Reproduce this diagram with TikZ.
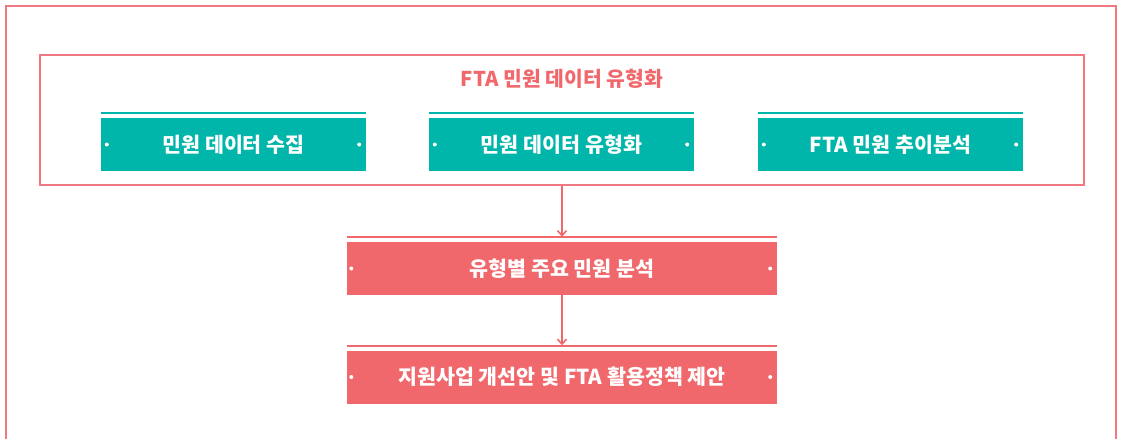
\documentclass[tikz,border=0pt]{standalone}
\usepackage{fontspec}
\newfontfamily\kr{Noto Sans CJK KR}
\usetikzlibrary{arrows.meta}
\definecolor{tealc}{HTML}{00B5A9}
\definecolor{redc}{HTML}{F0686C}
\definecolor{framec}{HTML}{F07880}
\tikzset{
  frameline/.style={draw=framec, line width=1.2pt},
  tealbox/.style={fill=tealc, minimum width=265pt, minimum height=53pt, inner sep=0pt, text=white, font=\kr\bfseries\fontsize{20.6}{24}\selectfont},
  redbox/.style={fill=redc, minimum width=430pt, minimum height=53pt, inner sep=0pt, text=white, font=\kr\bfseries\fontsize{20.6}{24}\selectfont},
  titletext/.style={text=redc, font=\kr\bfseries\fontsize{20.4}{24}\selectfont, inner sep=0pt},
  wdot/.style={fill=white, draw=none},
  flowarrow/.style={draw=redc, line width=2pt, -{Straight Barb[length=5pt,width=9pt,line width=1.6pt]}},
}
\begin{document}
\begin{tikzpicture}[x=1pt, y=-1pt]
\useasboundingbox (0,0) rectangle (1121,439);
% outer frame (bottom edge off the picture)
\draw[frameline] (6,439) -- (6,6) -- (1116,6) -- (1116,439);
% inner box
\node[frameline, minimum width=1044pt, minimum height=130pt, inner sep=0pt] (inner) at (562,120) {};
\node[titletext] (title) at (562,79) {FTA 민원 데이터 유형화};
% teal boxes
\node[tealbox] (t1) at (233.5,144.5) {민원 데이터 수집};
\node[tealbox] (t2) at (561.5,144.5) {민원 데이터 유형화};
\node[tealbox] (t3) at (890.5,144.5) {FTA 민원 추이분석};
% red boxes
\node[redbox] (r1) at (562,268.5) {유형별 주요 민원 분석};
\node[redbox] (r2) at (562,377) {지원사업 개선안 및 FTA 활용정책 제안};
% top accent lines
\foreach \b in {t1,t2,t3}{
  \draw[tealc, line width=2pt] ([yshift=4.5pt]\b.north west) -- ([yshift=4.5pt]\b.north east);
  \fill[wdot] ([xshift=6pt]\b.west) circle (2pt);
  \fill[wdot] ([xshift=-7pt]\b.east) circle (2pt);
}
\foreach \b in {r1,r2}{
  \draw[redc, line width=2pt] ([yshift=4.5pt]\b.north west) -- ([yshift=4.5pt]\b.north east);
  \fill[wdot] ([xshift=4.5pt]\b.west) circle (2pt);
  \fill[wdot] ([xshift=-7pt]\b.east) circle (2pt);
}
% arrows
\coordinate (a1) at ([yshift=5pt]r1.north);
\coordinate (a2) at ([yshift=5pt]r2.north);
\draw[flowarrow] (inner.south) -- (a1);
\draw[flowarrow] (r1.south) -- (a2);
\end{tikzpicture}
\end{document}
